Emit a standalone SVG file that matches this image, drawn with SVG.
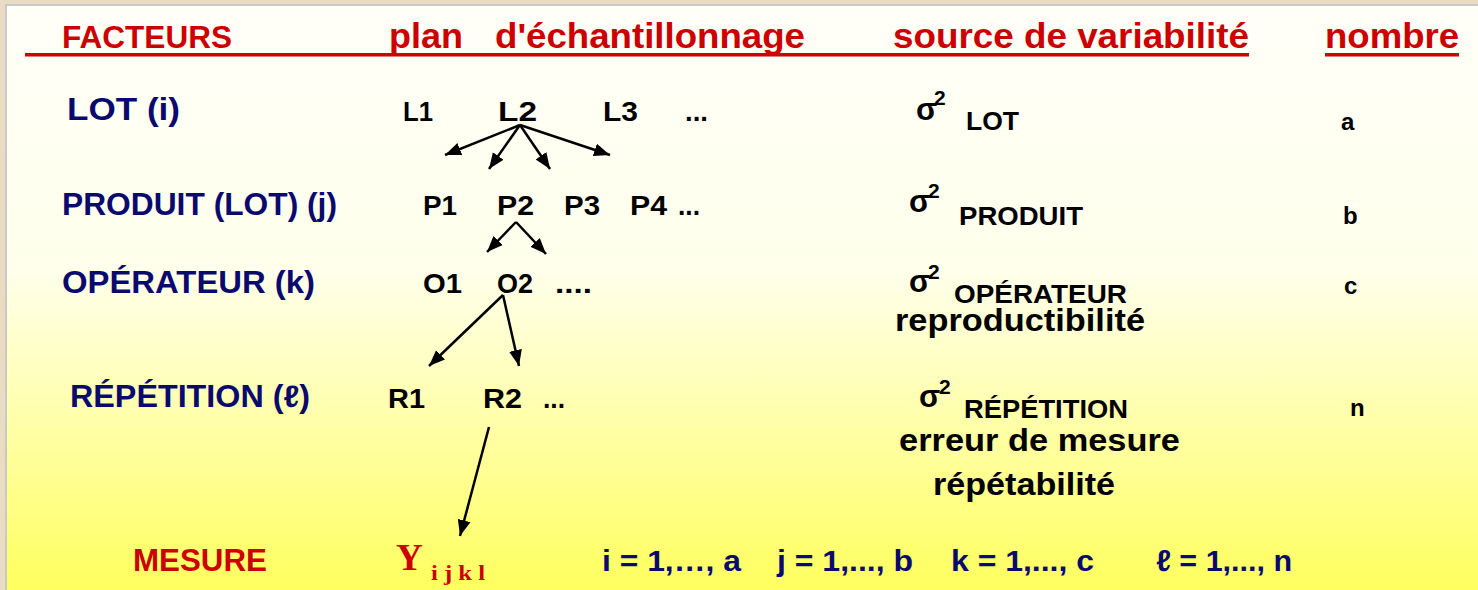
<svg xmlns="http://www.w3.org/2000/svg" width="1478" height="590" viewBox="0 0 1478 590">
<defs>
<linearGradient id="bg" x1="0" y1="0" x2="0" y2="1">
<stop offset="0" stop-color="#FFFFF8"/>
<stop offset="0.45" stop-color="#FFFFEC"/>
<stop offset="0.75" stop-color="#FFFFA0"/>
<stop offset="1" stop-color="#FFFF5E"/>
</linearGradient>
<marker id="ah" markerUnits="userSpaceOnUse" markerWidth="18" markerHeight="16" refX="16" refY="8" orient="auto">
<path d="M0,1.5 L16,8 L0,14.5 Z" fill="#000"/>
</marker>
<style>
text{font-family:"Liberation Sans",Arial,"DejaVu Sans",sans-serif;font-weight:bold}
.hd{fill:#CC0000;font-size:35px}
.lab{fill:#0A0A6E;font-size:31px}
.nd{fill:#000;font-size:27px}
.sg{fill:#000;font-size:31px}
.sup{fill:#000;font-size:21px}
.sub{fill:#000;font-size:26px}
.big{fill:#000;font-size:32px}
.num{fill:#000;font-size:24px}
.idx{fill:#0A0A6E;font-size:30px}
.ser{font-family:"Liberation Serif","Times New Roman",serif;fill:#CC0000}
.cn line{stroke:#000;stroke-width:2.5;marker-end:url(#ah)}
</style>
</defs>
<rect x="0" y="0" width="1478" height="590" fill="#EADCC2"/>
<rect x="5" y="4" width="1473" height="586" fill="#C9C9C9"/>
<rect x="7" y="6" width="1471" height="584" fill="url(#bg)"/>

<g id="header">
<text class="hd" x="62" y="48" style="font-size:31px" textLength="170" lengthAdjust="spacingAndGlyphs">FACTEURS</text>
<text class="hd" x="389" y="48" textLength="74" lengthAdjust="spacingAndGlyphs">plan</text>
<text class="hd" x="495" y="48" textLength="310" lengthAdjust="spacingAndGlyphs">d'échantillonnage</text>
<text class="hd" x="893" y="48" textLength="356" lengthAdjust="spacingAndGlyphs">source de variabilité</text>
<text class="hd" x="1325" y="48" textLength="134" lengthAdjust="spacingAndGlyphs">nombre</text>
<rect x="25" y="53" width="1224" height="3.5" fill="#CC0000"/>
<rect x="1325" y="53" width="134" height="3.5" fill="#CC0000"/>
</g>

<g id="labels">
<text class="lab" x="67" y="120" textLength="113" lengthAdjust="spacingAndGlyphs">LOT  (i)</text>
<text class="lab" x="62" y="215" textLength="275" lengthAdjust="spacingAndGlyphs">PRODUIT (LOT) (j)</text>
<text class="lab" x="62" y="293" textLength="253" lengthAdjust="spacingAndGlyphs">OPÉRATEUR  (k)</text>
<text class="lab" x="70" y="407" textLength="240" lengthAdjust="spacingAndGlyphs">RÉPÉTITION  (ℓ)</text>
</g>

<g id="node-L">
<text class="nd" x="403" y="121" textLength="30" lengthAdjust="spacingAndGlyphs">L1</text>
<text class="nd" x="498" y="121" textLength="39" lengthAdjust="spacingAndGlyphs">L2</text>
<text class="nd" x="603" y="121" textLength="35" lengthAdjust="spacingAndGlyphs">L3</text>
<text class="nd" x="685" y="121" textLength="23" lengthAdjust="spacingAndGlyphs">...</text>
</g>
<g id="node-P">
<text class="nd" x="423" y="215" textLength="34" lengthAdjust="spacingAndGlyphs">P1</text>
<text class="nd" x="497" y="215" textLength="37" lengthAdjust="spacingAndGlyphs">P2</text>
<text class="nd" x="564" y="215" textLength="36" lengthAdjust="spacingAndGlyphs">P3</text>
<text class="nd" x="630" y="215" textLength="37" lengthAdjust="spacingAndGlyphs">P4</text>
<text class="nd" x="678" y="215" textLength="22" lengthAdjust="spacingAndGlyphs">...</text>
</g>
<g id="node-O">
<text class="nd" x="423" y="293" textLength="39" lengthAdjust="spacingAndGlyphs">O1</text>
<text class="nd" x="497" y="293" textLength="36" lengthAdjust="spacingAndGlyphs">O2</text>
<text class="nd" x="555" y="293" textLength="37" lengthAdjust="spacingAndGlyphs">....</text>
</g>
<g id="node-R">
<text class="nd" x="388" y="408" textLength="37" lengthAdjust="spacingAndGlyphs">R1</text>
<text class="nd" x="483" y="408" textLength="39" lengthAdjust="spacingAndGlyphs">R2</text>
<text class="nd" x="543" y="408" textLength="22" lengthAdjust="spacingAndGlyphs">...</text>
</g>

<g id="connectors" class="cn">
<line x1="520" y1="125" x2="445" y2="155"/>
<line x1="520" y1="125" x2="489" y2="169"/>
<line x1="520" y1="125" x2="550" y2="169"/>
<line x1="520" y1="125" x2="610" y2="155"/>
<line x1="516" y1="222" x2="487" y2="252"/>
<line x1="516" y1="222" x2="546" y2="254"/>
<line x1="503" y1="295" x2="429" y2="366"/>
<line x1="503" y1="295" x2="519" y2="366"/>
<line x1="489" y1="427" x2="460" y2="536"/>
</g>

<g id="variabilite">
<text class="sg" x="916" y="120">σ</text><text class="sup" x="934" y="105">2</text>
<text class="sub" x="966" y="130" textLength="53" lengthAdjust="spacingAndGlyphs">LOT</text>
<text class="sg" x="909" y="212">σ</text><text class="sup" x="928" y="198">2</text>
<text class="sub" x="959" y="225" textLength="124" lengthAdjust="spacingAndGlyphs">PRODUIT</text>
<text class="sg" x="909" y="292">σ</text><text class="sup" x="928" y="279">2</text>
<text class="sub" x="954" y="303" textLength="173" lengthAdjust="spacingAndGlyphs">OPÉRATEUR</text>
<text class="big" x="895" y="331" textLength="250" lengthAdjust="spacingAndGlyphs">reproductibilité</text>
<text class="sg" x="919" y="407">σ</text><text class="sup" x="939" y="394">2</text>
<text class="sub" x="964" y="418" textLength="164" lengthAdjust="spacingAndGlyphs">RÉPÉTITION</text>
<text class="big" x="899" y="451" textLength="281" lengthAdjust="spacingAndGlyphs">erreur de mesure</text>
<text class="big" x="933" y="495" textLength="182" lengthAdjust="spacingAndGlyphs">répétabilité</text>
</g>

<g id="nombre">
<text class="num" x="1341" y="130">a</text>
<text class="num" x="1343" y="224">b</text>
<text class="num" x="1344" y="294">c</text>
<text class="num" x="1350" y="416">n</text>
</g>

<g id="mesure">
<text class="hd" x="133" y="571" style="font-size:31px" textLength="134" lengthAdjust="spacingAndGlyphs">MESURE</text>
<text class="ser" x="396" y="570" style="font-size:37px">Y</text>
<text class="ser" x="431" y="580" style="font-size:20px" textLength="54" lengthAdjust="spacingAndGlyphs">i j k l</text>
<text class="idx" x="602" y="571" textLength="139" lengthAdjust="spacingAndGlyphs">i = 1,…, a</text>
<text class="idx" x="777" y="571" textLength="136" lengthAdjust="spacingAndGlyphs">j = 1,..., b</text>
<text class="idx" x="951" y="571" textLength="143" lengthAdjust="spacingAndGlyphs">k = 1,..., c</text>
<text class="idx" x="1156" y="571" textLength="136" lengthAdjust="spacingAndGlyphs">ℓ = 1,..., n</text>
</g>
</svg>
